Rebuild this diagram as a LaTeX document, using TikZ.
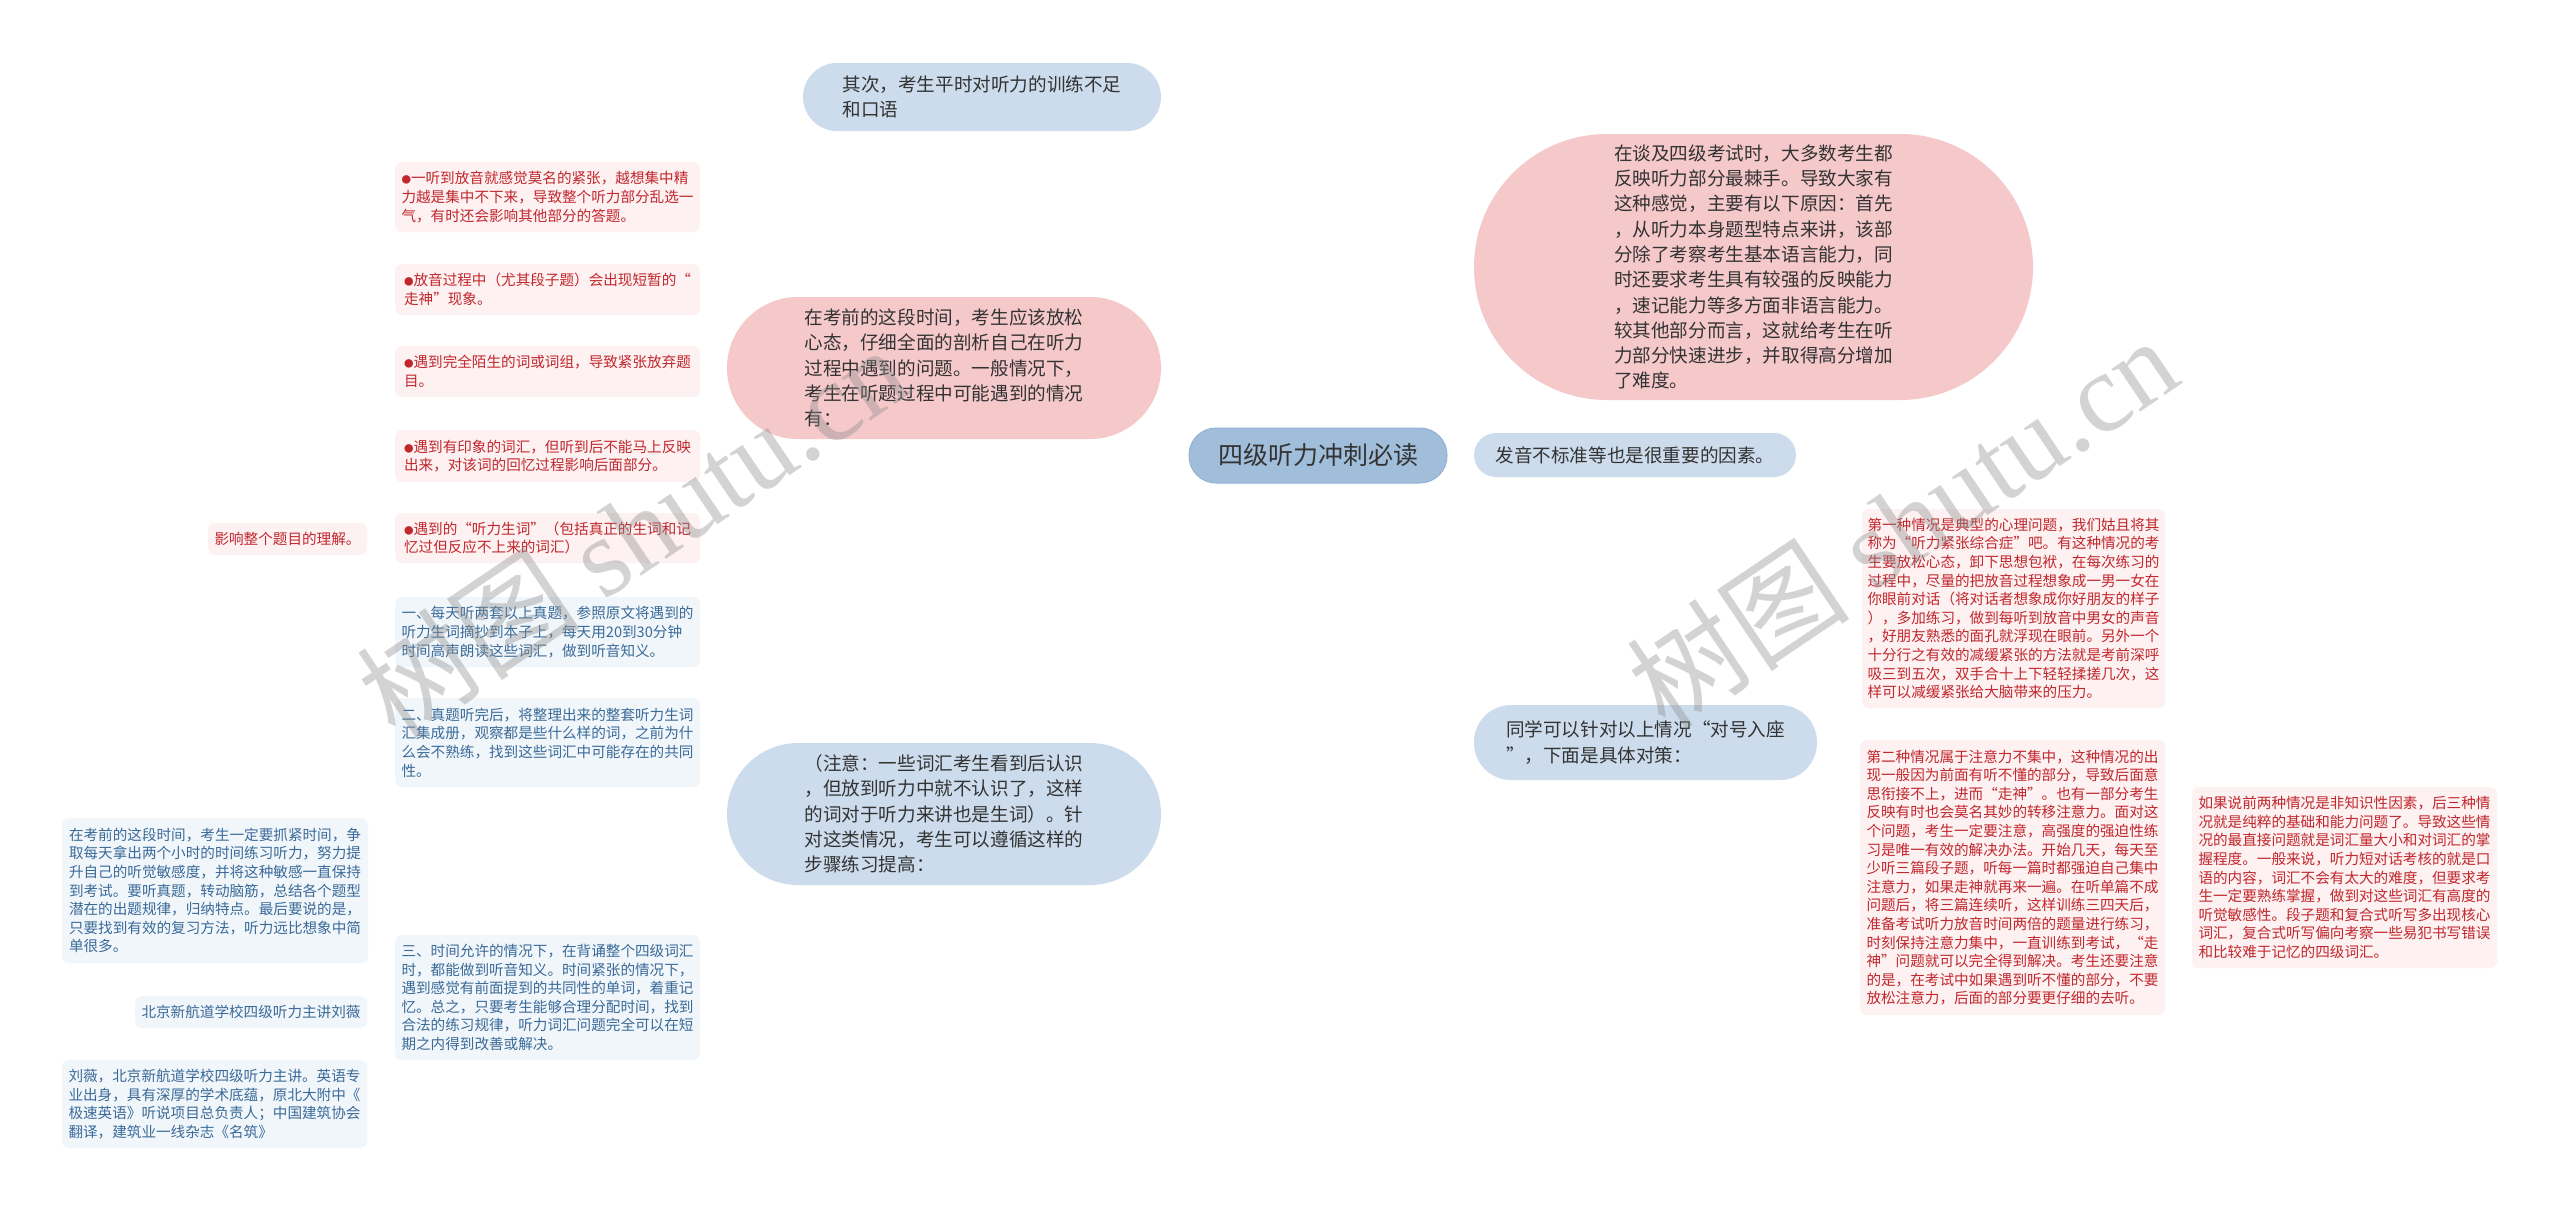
\documentclass[tikz,border=0pt]{standalone}
\usepackage{fontspec}
\setmainfont{Noto Sans CJK SC}
\newfontfamily\wmlatin{Liberation Serif}
\usetikzlibrary{backgrounds}
\definecolor{rootfill}{HTML}{A0BDDA}
\definecolor{rootdraw}{HTML}{94B3D3}
\definecolor{lblue}{HTML}{CCDCEC}
\definecolor{lpink}{HTML}{F5C8CA}
\definecolor{sred}{HTML}{FDF1F1}
\definecolor{sblue}{HTML}{F1F6FB}
\definecolor{tred}{HTML}{C1272D}
\definecolor{tblue}{HTML}{3A6A98}
\definecolor{tdark}{HTML}{333333}
\definecolor{cpink}{HTML}{F0BCC0}
\definecolor{cblue}{HTML}{BFD3E6}
\newcommand\mmBig{\fontsize{18.6}{25.3}\selectfont}
\newcommand\mmSmall{\fontsize{14.6}{18.6}\selectfont}
\newcommand\mmDot{{\fontsize{9.5}{9.5}\selectfont ●}}
\begin{document}
\begin{tikzpicture}[x=1pt,y=-1pt,
  bignode/.style={fill=#1, align=left, font=\mmBig, text=tdark, inner sep=0pt},
  rednode/.style={fill=sred, rounded corners=7pt, align=left, font=\mmSmall, text=tred, inner sep=0pt, minimum width=305pt},
  bluenode/.style={fill=sblue, rounded corners=7pt, align=left, font=\mmSmall, text=tblue, inner sep=0pt, minimum width=305pt},
  pcon/.style={draw=cpink, line width=2pt},
  bcon/.style={draw=cblue, line width=2pt},
  wm/.style={text=black!45, opacity=0.38, inner sep=0pt}]
\fill[white] (0,0) rectangle (2560,1211);
\useasboundingbox (0,0) rectangle (2560,1211);

% root
\node[fill=rootfill, draw=rootdraw, line width=1pt, rounded corners=27pt, minimum width=258pt, minimum height=55pt, font=\fontsize{25}{30}\selectfont, text=tdark, inner sep=0pt] (root) at (1318,455.5) {四级听力冲刺必读};

% first level
\node[bignode=lblue, rounded corners=34pt, minimum width=358pt, minimum height=68pt] (qici) at (982,97) {其次，考生平时对听力的训练不足\\和口语};
\node[bignode=lpink, rounded corners=71pt, minimum width=434pt, minimum height=142pt] (lp) at (944,368) {在考前的这段时间，考生应该放松\\心态，仔细全面的剖析自己在听力\\过程中遇到的问题。一般情况下，\\考生在听题过程中可能遇到的情况\\有：};
\node[bignode=lblue, rounded corners=71pt, minimum width=434pt, minimum height=142pt] (bl) at (944,814) {（注意：一些词汇考生看到后认识\\，但放到听力中就不认识了，这样\\的词对于听力来讲也是生词）。针\\对这类情况，考生可以遵循这样的\\步骤练习提高：};
\node[bignode=lpink, rounded corners=133pt, minimum width=559pt, minimum height=266pt] (rp) at (1753.5,267) {在谈及四级考试时，大多数考生都\\反映听力部分最棘手。导致大家有\\这种感觉，主要有以下原因：首先\\，从听力本身题型特点来讲，该部\\分除了考察考生基本语言能力，同\\时还要求考生具有较强的反映能力\\，速记能力等多方面非语言能力。\\较其他部分而言，这就给考生在听\\力部分快速进步，并取得高分增加\\了难度。};
\node[bignode=lblue, rounded corners=22pt, minimum width=322pt, minimum height=44pt] (fy) at (1635,455) {发音不标准等也是很重要的因素。};
\node[bignode=lblue, rounded corners=37pt, minimum width=343pt, minimum height=75pt] (tx) at (1645.5,742.5) {同学可以针对以上情况“对号入座\\”，下面是具体对策：};

% left red children
\node[rednode, minimum height=70pt] (r1) at (547.5,197) {\mmDot 一听到放音就感觉莫名的紧张，越想集中精\\力越是集中不下来，导致整个听力部分乱选一\\气，有时还会影响其他部分的答题。};
\node[rednode, minimum height=51pt] (r2) at (547.5,289.5) {\mmDot 放音过程中（尤其段子题）会出现短暂的“\\走神”现象。};
\node[rednode, minimum height=51pt] (r3) at (547.5,371.5) {\mmDot 遇到完全陌生的词或词组，导致紧张放弃题\\目。};
\node[rednode, minimum height=52pt] (r4) at (547.5,456) {\mmDot 遇到有印象的词汇，但听到后不能马上反映\\出来，对该词的回忆过程影响后面部分。};
\node[rednode, minimum height=50pt] (r5) at (547.5,538) {\mmDot 遇到的“听力生词”（包括真正的生词和记\\忆过但反应不上来的词汇）};
\node[rednode, minimum width=159pt, minimum height=32pt] (r5c) at (287.5,539) {影响整个题目的理解。};

% left blue children
\node[bluenode, minimum height=70pt] (b1) at (547.5,632) {一、每天听两套以上真题，参照原文将遇到的\\听力生词摘抄到本子上，每天用20到30分钟\\时间高声朗读这些词汇，做到听音知义。};
\node[bluenode, minimum height=89pt] (b2) at (547.5,742.5) {二、真题听完后，将整理出来的整套听力生词\\汇集成册，观察都是些什么样的词，之前为什\\么会不熟练，找到这些词汇中可能存在的共同\\性。};
\node[bluenode, minimum height=125pt] (b3) at (547.5,997.5) {三、时间允许的情况下，在背诵整个四级词汇\\时，都能做到听音知义。时间紧张的情况下，\\遇到感觉有前面提到的共同性的单词，着重记\\忆。总之，只要考生能够合理分配时间，找到\\合法的练习规律，听力词汇问题完全可以在短\\期之内得到改善或解决。};
\node[bluenode, minimum width=306pt, minimum height=145pt] (b3a) at (215,890.5) {在考前的这段时间，考生一定要抓紧时间，争\\取每天拿出两个小时的时间练习听力，努力提\\升自己的听觉敏感度，并将这种敏感一直保持\\到考试。要听真题，转动脑筋，总结各个题型\\潜在的出题规律，归纳特点。最后要说的是，\\只要找到有效的复习方法，听力远比想象中简\\单很多。};
\node[bluenode, minimum width=232pt, minimum height=32pt] (b3b) at (251,1012) {北京新航道学校四级听力主讲刘薇};
\node[bluenode, minimum width=305pt, minimum height=88pt] (b3c) at (214.5,1104) {刘薇，北京新航道学校四级听力主讲。英语专\\业出身，具有深厚的学术底蕴，原北大附中《\\极速英语》听说项目总负责人；中国建筑协会\\翻译，建筑业一线杂志《名筑》};

% right children
\node[rednode, minimum width=303pt, minimum height=199pt] (s1) at (2013.5,608.5) {第一种情况是典型的心理问题，我们姑且将其\\称为“听力紧张综合症”吧。有这种情况的考\\生要放松心态，卸下思想包袱，在每次练习的\\过程中，尽量的把放音过程想象成一男一女在\\你眼前对话（将对话者想象成你好朋友的样子\\），多加练习，做到每听到放音中男女的声音\\，好朋友熟悉的面孔就浮现在眼前。另外一个\\十分行之有效的减缓紧张的方法就是考前深呼\\吸三到五次，双手合十上下轻轻揉搓几次，这\\样可以减缓紧张给大脑带来的压力。};
\node[rednode, minimum height=275pt] (s2) at (2012.5,877.5) {第二种情况属于注意力不集中，这种情况的出\\现一般因为前面有听不懂的部分，导致后面意\\思衔接不上，进而“走神”。也有一部分考生\\反映有时也会莫名其妙的转移注意力。面对这\\个问题，考生一定要注意，高强度的强迫性练\\习是唯一有效的解决办法。开始几天，每天至\\少听三篇段子题，听每一篇时都强迫自己集中\\注意力，如果走神就再来一遍。在听单篇不成\\问题后，将三篇连续听，这样训练三四天后，\\准备考试听力放音时间两倍的题量进行练习，\\时刻保持注意力集中，一直训练到考试，“走\\神”问题就可以完全得到解决。考生还要注意\\的是，在考试中如果遇到听不懂的部分，不要\\放松注意力，后面的部分要更仔细的去听。};
\node[rednode, minimum height=181pt] (s3) at (2344.5,877.5) {如果说前两种情况是非知识性因素，后三种情\\况就是纯粹的基础和能力问题了。导致这些情\\况的最直接问题就是词汇量大小和对词汇的掌\\握程度。一般来说，听力短对话考核的就是口\\语的内容，词汇不会有太大的难度，但要求考\\生一定要熟练掌握，做到对这些词汇有高度的\\听觉敏感性。段子题和复合式听写多出现核心\\词汇，复合式听写偏向考察一些易犯书写错误\\和比较难于记忆的四级词汇。};

\begin{pgfonlayer}{background}
% root connectors
\draw[bcon] (root.center) .. controls +(0,-300) and +(130,0) .. (qici.east);
\draw[pcon] (root.center) .. controls +(-8,-90) and +(110,0) .. (lp.east);
\draw[bcon] (root.center) .. controls +(0,330) and +(140,0) .. (bl.east);
\draw[pcon] (root.center) .. controls +(0,-180) and +(-110,0) .. (rp.west);
\draw[bcon] (root.east) -- (fy.west);
\draw[pcon] (root.center) .. controls +(0,260) and +(-130,0) .. (tx.west);
% left pink branch
\foreach \c in {r1,r2,r3,r4,r5}
  \draw[pcon] (lp.west) .. controls +(-17,0) and +(10,0) .. (\c.east);
\draw[pcon] (r5.west) -- (r5c.east);
% left blue branch
\foreach \c in {b1,b2,b3}
  \draw[bcon] (bl.west) .. controls +(-17,0) and +(10,0) .. (\c.east);
\foreach \c in {b3a,b3b,b3c}
  \draw[bcon] (b3.west) .. controls +(-17,0) and +(13,0) .. (\c.east);
% right branch
\foreach \c in {s1,s2}
  \draw[pcon] (tx.east) .. controls +(25,0) and +(-20,0) .. (\c.west);
\draw[pcon] (s2.east) -- (s3.west);
\end{pgfonlayer}

% watermarks
\node[wm, rotate=34] (wm1) at (632,531) {\fontsize{112}{112}\selectfont 树图 {\wmlatin shutu.cn}};
\node[wm, rotate=34] (wm2) at (1902,522) {\fontsize{112}{112}\selectfont 树图 {\wmlatin shutu.cn}};
\end{tikzpicture}
\end{document}
